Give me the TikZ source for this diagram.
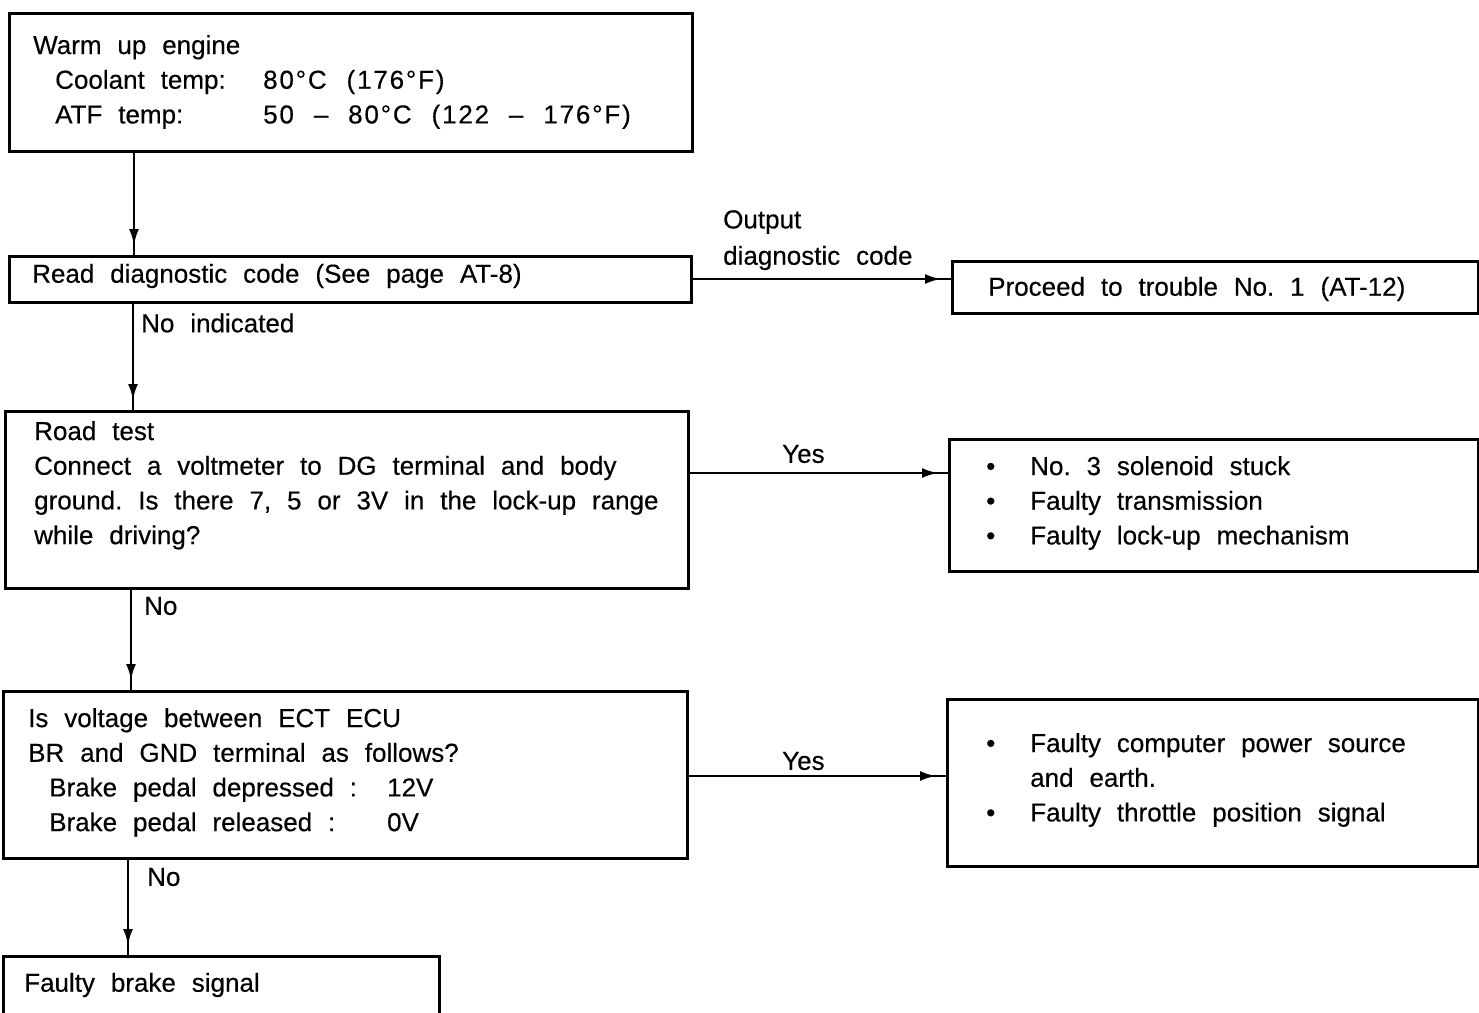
\documentclass[tikz,border=0pt]{standalone}
\usepackage{fontspec}
\setmainfont{Liberation Sans}[WordSpace={2.2,1,1},FakeBold=0.35]
\usetikzlibrary{arrows.meta,decorations.markings,calc}
\newcommand{\wide}[1]{{\addfontfeatures{LetterSpace=7,FakeBold=0.35}#1}}
\begin{document}
\frenchspacing
\begin{tikzpicture}[x=1pt,y=-1pt,
  box/.style={draw, line width=2.6pt, anchor=north west, inner sep=0pt},
  txt/.style={anchor=north west, inner sep=0pt, align=left, font=\fontsize{26}{34.7}\selectfont},
  lbl/.style={anchor=west, inner sep=0pt, align=left, font=\fontsize{26}{35}\selectfont},
  arr/.style={line width=2.4pt, postaction={decorate},
    decoration={markings, mark=at position -10pt with {\arrow{Latex[length=16pt,width=10pt]}}}}
]
\useasboundingbox (0,0) rectangle (1479,1012);
\fill[white] (0,0) rectangle (1479,1012);

% boxes
\node[box, minimum width=683pt, minimum height=138pt] (b1) at (8,12) {};
\node[box, minimum width=682pt, minimum height=46pt] (b2) at (8,255) {};
\node[box, minimum width=526pt, minimum height=52pt] (b3) at (951,260) {};
\node[box, minimum width=683pt, minimum height=177pt] (b4) at (4,410) {};
\node[box, minimum width=529pt, minimum height=132pt] (b5) at (948,438) {};
\node[box, minimum width=684pt, minimum height=167pt] (b6) at (2,690) {};
\node[box, minimum width=531pt, minimum height=167pt] (b7) at (946,698) {};
\node[box, minimum width=436pt, minimum height=80pt] (b8) at (2,955) {};

% texts
\node[txt] (t1) at (33,35) {Warm up engine\\
\hspace*{22pt}\makebox[208pt][l]{Coolant temp:}\wide{80°C (176°F)}\\
\hspace*{22pt}\makebox[208pt][l]{ATF temp:}\wide{50 -- 80°C (122 -- 176°F)}};
\node[lbl] (t2) at (32,276) {Read diagnostic code (See page AT-8)};
\node[lbl] (t3) at (988,289) {Proceed to trouble No. 1 (AT-12)};
\node[txt] (t4) at (34,421) {Road test\\
Connect a voltmeter to DG terminal and body\\
ground. Is there 7, 5 or 3V in the lock-up range\\
while driving?};
\node[txt] (t5) at (986,456) {\makebox[44pt][l]{\textbullet}No. 3 solenoid stuck\\
\makebox[44pt][l]{\textbullet}Faulty transmission\\
\makebox[44pt][l]{\textbullet}Faulty lock-up mechanism};
\node[txt] (t6) at (28,708) {Is voltage between ECT ECU\\
BR and GND terminal as follows?\\
\hspace*{21pt}\makebox[338pt][l]{Brake pedal depressed :}12V\\
\hspace*{21pt}\makebox[338pt][l]{Brake pedal released :}0V};
\node[txt] (t7) at (986,733) {\makebox[44pt][l]{\textbullet}Faulty computer power source\\
\hspace*{44pt}and earth.\\
\makebox[44pt][l]{\textbullet}Faulty throttle position signal};
\node[lbl] (t8) at (24,985) {Faulty brake signal};

% connector columns / rows
\coordinate (c1) at (134,0);
\coordinate (c2) at (133,0);
\coordinate (c3) at (131,0);
\coordinate (c4) at (128,0);
\coordinate (r1) at (0,279);
\coordinate (r2) at (0,473);
\coordinate (r3) at (0,776);

% connectors
\draw[arr] (b1.south -| c1) -- (b2.north -| c1);
\draw[arr] (b2.south -| c2) -- (b4.north -| c2);
\draw[arr] (b4.south -| c3) -- (b6.north -| c3);
\draw[arr] (b6.south -| c4) -- (b8.north -| c4);
\draw[arr] (b2.east |- r1) -- (b3.west |- r1);
\draw[arr] (b4.east |- r2) -- (b5.west |- r2);
\draw[arr] (b6.east |- r3) -- (b7.west |- r3);

% connector labels
\node[lbl] (l1) at (723,222) {Output};
\node[lbl] (l2) at (723,258) {diagnostic code};
\node[lbl] (l3) at (141,323) {No indicated};
\node[lbl] (l4) at (782,454) {Yes};
\node[lbl] (l5) at (144,606) {No};
\node[lbl] (l6) at (782,761) {Yes};
\node[lbl] (l7) at (147,877) {No};
\end{tikzpicture}
\end{document}
